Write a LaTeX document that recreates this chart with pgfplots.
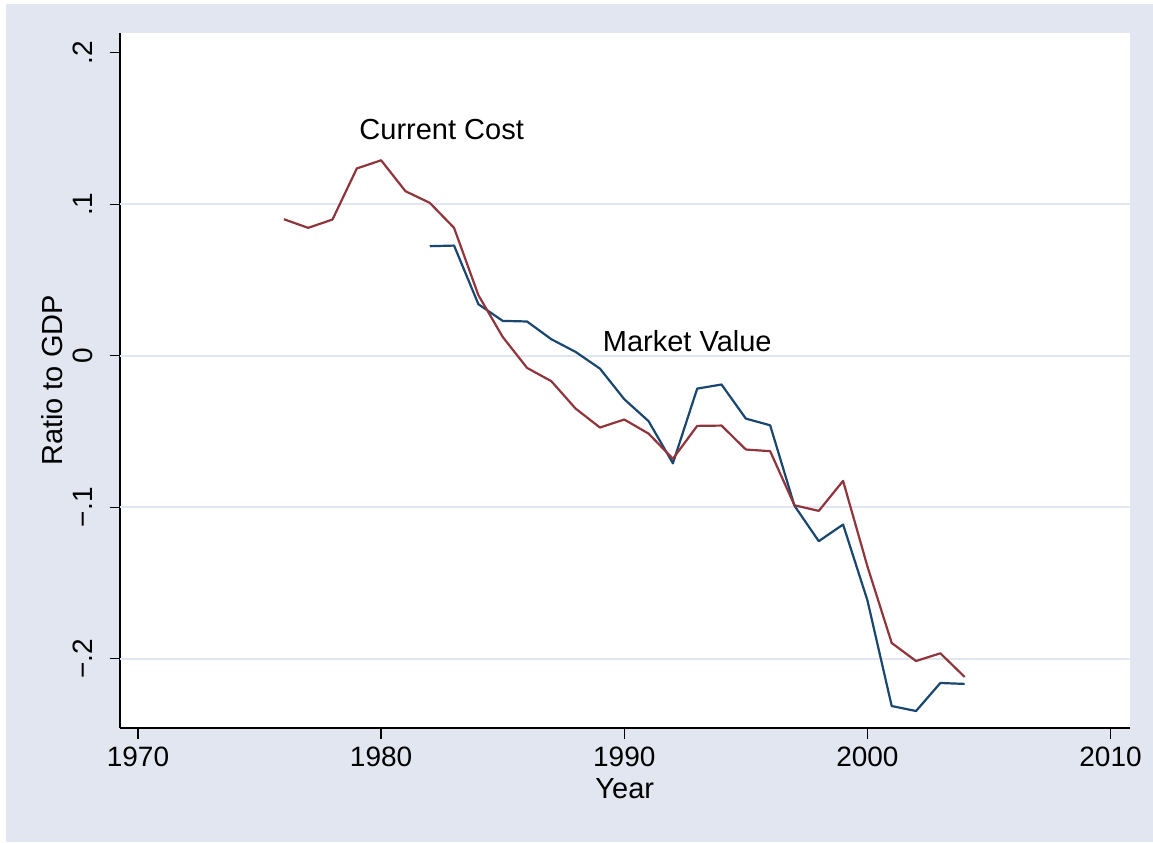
\documentclass[border=0pt]{standalone}
\usepackage{pgfplots}
\pgfplotsset{compat=1.18}
\usepackage{fontspec}
\setmainfont{Liberation Sans}
\definecolor{bgc}{RGB}{225,230,240}
\definecolor{navy}{RGB}{26,71,111}
\definecolor{maroon}{RGB}{144,53,59}
\pgfplotstableread{
year val
1976 0.0901
1977 0.0844
1978 0.0899
1979 0.1236
1980 0.1290
1981 0.1086
1982 0.1009
1983 0.0844
1984 0.0400
1985 0.0124
1986 -0.0080
1987 -0.0168
1988 -0.0349
1989 -0.0474
1990 -0.0421
1991 -0.0514
1992 -0.0680
1993 -0.0463
1994 -0.0461
1995 -0.0619
1996 -0.0630
1997 -0.0987
1998 -0.1024
1999 -0.0826
2000 -0.1390
2001 -0.1896
2002 -0.2015
2003 -0.1964
2004 -0.2120
}\currentcost
\pgfplotstableread{
year val
1982 0.0723
1983 0.0727
1984 0.0340
1985 0.0230
1986 0.0226
1987 0.0109
1988 0.0025
1989 -0.0085
1990 -0.0287
1991 -0.0432
1992 -0.0710
1993 -0.0217
1994 -0.0190
1995 -0.0415
1996 -0.0459
1997 -0.0990
1998 -0.1224
1999 -0.1114
2000 -0.1614
2001 -0.2312
2002 -0.2345
2003 -0.2160
2004 -0.2166
}\marketvalue
\begin{document}
\begin{tikzpicture}
\useasboundingbox (0,0) rectangle (576.5pt,421pt);
\fill[bgc] (3pt,0) rectangle (576.5pt,419pt);
\begin{axis}[
  at={(60pt,57pt)}, anchor=south west,
  scale only axis, width=504.75pt, height=347.5pt,
  xmin=1969.26, xmax=2010.78, ymin=-0.2457, ymax=0.213,
  axis background/.style={fill=white},
  axis x line*=bottom, axis y line*=left,
  axis line style={line width=0.65pt, -},
  tick style={black, line width=0.65pt},
  major tick length=5.25pt, tick align=outside,
  xtick={1970,1980,1990,2000,2010},
  xticklabels={1970,1980,1990,2000,2010},
  ytick={-0.2,-0.1,0,0.1,0.2},
  yticklabels={−.2,−.1,0,.1,.2},
  minor tick num=0,
  extra y ticks={-0.2,-0.1,0,0.1},
  extra y tick labels={},
  extra y tick style={grid=major, major tick length=0pt},
  grid style={bgc, line width=1pt},
  xticklabel style={font=\fontsize{14}{14}\selectfont, anchor=north, inner sep=0pt},
  yticklabel style={font=\fontsize{14}{14}\selectfont, rotate=90, anchor=base, inner sep=0pt},
  xticklabel shift=4.25pt,
  yticklabel shift=8.75pt,
  xlabel={Year},
  ylabel={Ratio to GDP},
  xlabel style={font=\fontsize{14.5}{14.5}\selectfont, at={(axis description cs:0.5,0)}, anchor=base, yshift=-35pt, inner sep=0pt},
  ylabel style={font=\fontsize{14.5}{14.5}\selectfont, at={(axis description cs:-0.0674,0.5)}, anchor=center, inner sep=0pt},
  clip=false,
]
\addplot[navy, line width=1.1pt, line join=round] table[x=year, y=val] {\marketvalue};
\addplot[maroon, line width=1.1pt, line join=round] table[x=year, y=val] {\currentcost};
\node[font=\fontsize{14.5}{14.5}\selectfont, inner sep=0pt] at (axis cs:1982.49,0.1495) {Current Cost};
\node[font=\fontsize{14.5}{14.5}\selectfont, inner sep=0pt] at (axis cs:1992.59,0.00957) {Market Value};
\end{axis}
\end{tikzpicture}
\end{document}
